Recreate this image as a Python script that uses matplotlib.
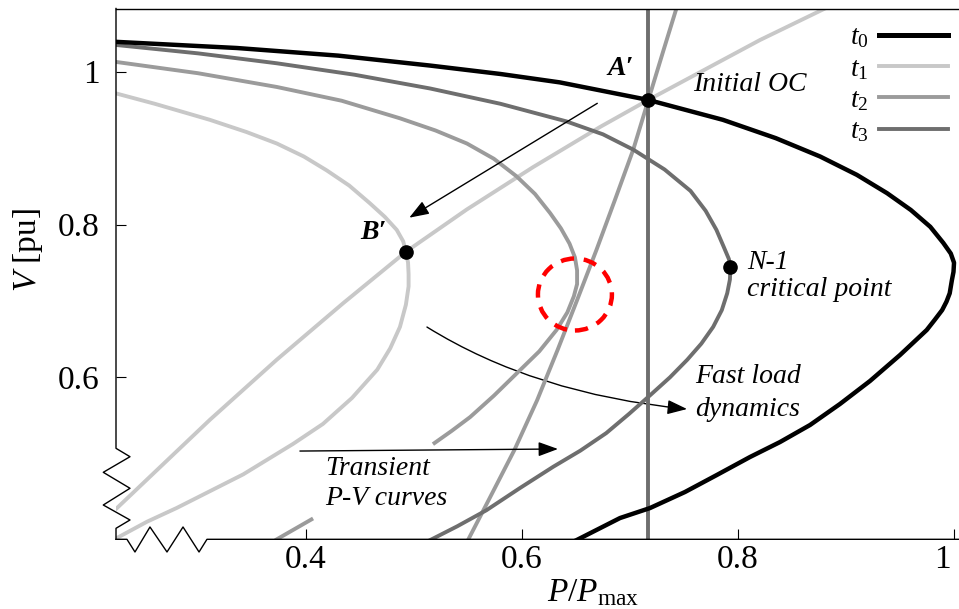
import numpy as np
import matplotlib
matplotlib.use('Agg')
import matplotlib.pyplot as plt
from matplotlib.path import Path
from matplotlib.patches import FancyArrowPatch, Ellipse
from matplotlib.lines import Line2D
from matplotlib.transforms import ScaledTranslation

plt.rcParams['font.family'] = ['Liberation Serif', 'DejaVu Serif']
plt.rcParams['mathtext.fontset'] = 'custom'
plt.rcParams['mathtext.rm'] = 'Liberation Serif'
plt.rcParams['mathtext.it'] = 'Liberation Serif:italic'
plt.rcParams['mathtext.bf'] = 'Liberation Serif:bold'

nan = np.nan

# P-V (nose) curves at t0..t3
p_t0 = [0.225, 0.336, 0.430, 0.515, 0.580, 0.635, 0.717, 0.786, 0.835, 0.876, 0.910,
        0.938, 0.960, 0.978, 0.990, 0.997, 1.000, 0.9995, 0.998, 0.996, 0.993, 0.989,
        0.982, 0.9747, 0.950, 0.9222, 0.8944, 0.8667, 0.8389, 0.8111, 0.7803, 0.7509,
        0.7185, 0.6907, 0.6506]
v_t0 = [1.039, 1.031, 1.021, 1.008, 0.997, 0.986, 0.963, 0.937, 0.913, 0.889, 0.865,
        0.841, 0.819, 0.797, 0.776, 0.762, 0.750, 0.738, 0.727, 0.710, 0.699, 0.688,
        0.675, 0.6619, 0.6292, 0.5952, 0.5651, 0.5376, 0.5153, 0.4957, 0.4721, 0.4499,
        0.4289, 0.4158, 0.387]

p_t1 = [0.223, 0.260, 0.311, 0.345, 0.373, 0.398, 0.419, 0.440, 0.459, 0.473, 0.484,
        0.490, 0.4926, 0.4945, 0.495, 0.495, 0.4925, 0.487, 0.478, 0.466, 0.4426, 0.4157,
        0.3882, 0.3419, 0.3111, 0.2803, 0.2528, 0.224]
v_t1 = [0.972, 0.958, 0.937, 0.921, 0.906, 0.889, 0.871, 0.851, 0.828, 0.810, 0.793,
        0.778, 0.764, 0.750, 0.735, 0.719, 0.695, 0.666, 0.638, 0.610, 0.573, 0.539,
        0.513, 0.473, 0.451, 0.429, 0.411, 0.389]

p_t2 = [0.223, 0.300, 0.373, 0.433, 0.487, 0.520, 0.549, 0.574, 0.595, 0.612, 0.626,
        0.636, 0.644, 0.649, 0.651, 0.651, 0.648, 0.642, 0.632, 0.616, 0.595, 0.574,
        0.552, 0.535, 0.519, nan, 0.405, 0.389, 0.373]
v_t2 = [1.013, 0.998, 0.980, 0.962, 0.939, 0.923, 0.906, 0.886, 0.863, 0.840, 0.815,
        0.795, 0.775, 0.757, 0.740, 0.722, 0.706, 0.685, 0.662, 0.634, 0.605, 0.576,
        0.548, 0.530, 0.514, nan, 0.414, 0.401, 0.388]

p_t3 = [0.224, 0.300, 0.373, 0.445, 0.515, 0.580, 0.641, 0.675, 0.703, 0.732, 0.756,
        0.770, 0.780, 0.787, 0.7915, 0.793, 0.7925, 0.790, 0.785, 0.777, 0.766, 0.753,
        0.737, 0.719, 0.699, 0.678, 0.654, 0.629, 0.598, 0.567, 0.540, 0.515]
v_t3 = [1.035, 1.024, 1.011, 0.996, 0.978, 0.958, 0.935, 0.918, 0.898, 0.872, 0.844,
        0.818, 0.793, 0.770, 0.755, 0.745, 0.728, 0.710, 0.688, 0.666, 0.644, 0.623,
        0.600, 0.577, 0.552, 0.527, 0.504, 0.483, 0.455, 0.426, 0.405, 0.387]

# load characteristics
p_load1 = [0.2247, 0.3111, 0.3729, 0.4345, 0.4926, 0.5488, 0.6105, 0.6722, 0.7169, 0.8204, 0.8815]
v_load1 = [0.4285, 0.5445, 0.6230, 0.6971, 0.7644, 0.8196, 0.8753, 0.9276, 0.9630, 1.0415, 1.0834]

p_load2 = [0.550, 0.569, 0.593, 0.614, 0.633, 0.651, 0.669, 0.686, 0.703, 0.717, 0.731, 0.743]
v_load2 = [0.387, 0.439, 0.505, 0.570, 0.636, 0.701, 0.767, 0.832, 0.898, 0.963, 1.028, 1.083]

p_load3 = 0.717

# operating points
pt_A = (0.717, 0.963)
pt_B = (0.4926, 0.764)
pt_N1 = (0.793, 0.745)

xticks = [0.4, 0.6, 0.8, 1.0]
xticklabels = ['0.4', '0.6', '0.8', '1']
yticks = [0.6, 0.8, 1.0]
yticklabels = ['0.6', '0.8', '1']

labels = [r'$t_\mathit{0}$', r'$t_\mathit{1}$', r'$t_\mathit{2}$', r'$t_\mathit{3}$']
colors = ['black', '#c8c8c8', '#9b9b9b', '#6e6e6e']
widths = [3.2, 2.8, 2.8, 2.8]

fig = plt.figure(figsize=(9.59, 6.09), dpi=100)
ax = fig.add_axes([116 / 959, (609 - 539.3) / 609, 843 / 959, 530.8 / 609])

ax.plot(p_load1, v_load1, color=colors[1], lw=widths[1])
ax.plot(p_t1, v_t1, color=colors[1], lw=widths[1])
ax.plot(p_load2, v_load2, color=colors[2], lw=widths[2])
ax.plot(p_t2, v_t2, color=colors[2], lw=widths[2])
ax.axvline(p_load3, color=colors[3], lw=widths[3])
ax.plot(p_t3, v_t3, color=colors[3], lw=widths[3])
ax.plot(p_t0, v_t0, color=colors[0], lw=widths[0])

for pt in (pt_A, pt_B, pt_N1):
    ax.plot(*pt, 'o', color='black', ms=9.5, zorder=5)

# red dashed circle
ax.add_patch(Ellipse((0.649, 0.7084), 0.0685, 0.0942, fill=False, edgecolor='red',
                     lw=3.2, ls=(0, (3.0, 2.2)), zorder=6))

arrow = '-|>,head_length=0.6,head_width=0.22'
ax.annotate('', xy=(0.4956, 0.8089), xytext=(0.6697, 0.9586),
            arrowprops=dict(arrowstyle=arrow, lw=1, color='black', mutation_scale=20,
                            shrinkA=0, shrinkB=0))
ax.annotate('', xy=(0.6333, 0.5062), xytext=(0.3944, 0.5035),
            arrowprops=dict(arrowstyle=arrow, lw=1, color='black', mutation_scale=20,
                            shrinkA=0, shrinkB=0))
curve = Path([(0.5120, 0.6658), (0.6120, 0.5781), (0.7528, 0.5585)],
             [Path.MOVETO, Path.CURVE3, Path.CURVE3])
ax.add_patch(FancyArrowPatch(path=curve, arrowstyle=arrow, lw=1, color='black',
                             mutation_scale=20))

# annotations
ax.text(0.6917, 1.0048, "A′", fontsize=20, fontweight='bold', style='italic',
        ha='center', va='center')
ax.text(0.462, 0.7889, "B′", fontsize=20, fontweight='bold', style='italic',
        ha='center', va='center')
ax.text(0.7583, 0.9826, 'Initial OC', fontsize=20, style='italic', va='center')
ax.text(0.8083, 0.7326, 'N-1\ncritical point', fontsize=20, style='italic',
        va='center', linespacing=1.12)
ax.text(0.7600, 0.5800, 'Fast load\ndynamics', fontsize=20, style='italic',
        va='center', linespacing=1.42)
ax.text(0.4176, 0.4610, 'Transient\nP-V curves', fontsize=20, style='italic',
        va='center', linespacing=1.25)

ax.set_xlim(0.2241, 1.0046)
ax.set_ylim(0.388, 1.0827)
ax.set_xticks(xticks)
ax.set_xticklabels(xticklabels)
ax.set_yticks(yticks)
ax.set_yticklabels(yticklabels)
ax.tick_params(direction='in', length=7, width=0.8, labelsize=24)
ax.tick_params(axis='x', pad=4)
ax.tick_params(axis='y', pad=12)
last = ax.get_xticklabels()[-1]
last.set_transform(last.get_transform() + ScaledTranslation(-0.12, 0, fig.dpi_scale_trans))

ax.set_xlabel(r'$P/P_{\mathrm{max}}$', fontsize=24)
ax.xaxis.set_label_coords(0.566, -0.071)
ax.set_ylabel(r'$V$ [pu]', fontsize=24)
ax.yaxis.set_label_coords(-0.084, 0.545)

for s in ('left', 'bottom', 'right'):
    ax.spines[s].set_visible(False)
ax.spines['top'].set_linewidth(1)

# broken axes
ax.plot([0, 0, 0.0166, -0.0151, 0.0166, -0.0151, 0.0166, 0, 0],
        [1, 0.1714, 0.1556, 0.1262, 0.0961, 0.0646, 0.0364, 0.0207, 0],
        transform=ax.transAxes, clip_on=False, color='black', lw=1)
ax.plot([0, 0.0130, 0.0225, 0.0403, 0.0605, 0.0795, 0.0985, 0.1079, 1],
        [0, 0, -0.0239, 0.0232, -0.0239, 0.0232, -0.0239, 0, 0],
        transform=ax.transAxes, clip_on=False, color='black', lw=1)

handles = [Line2D([], [], color=c, lw=w + 0.4 * (i == 0)) for i, (c, w) in enumerate(zip(colors, widths))]
fig.legend(handles, labels, loc='upper right', bbox_to_anchor=(948 / 959, 1 - 25 / 609),
           frameon=False, markerfirst=False, fontsize=20, handlelength=2.5,
           handletextpad=0.36, labelspacing=0.21, borderpad=0, borderaxespad=0)

fig.savefig('out.png', dpi=100)
